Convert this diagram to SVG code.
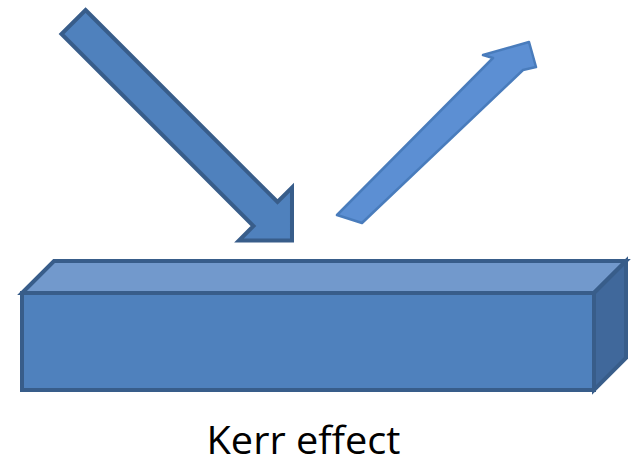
<svg xmlns="http://www.w3.org/2000/svg" width="633" height="459" viewBox="0 0 633 459">
  <defs>
    <style>
      .edge { stroke: #385D8A; stroke-width: 4; stroke-linejoin: miter; }
      .front { fill: #4F81BD; }
      .top { fill: #7299CC; }
      .side { fill: #40689B; }
      .incident { fill: #4F81BD; stroke: #385D8A; stroke-width: 4; stroke-linejoin: miter; }
      .reflected { fill: #5B8FD3; stroke: #4A7CBC; stroke-width: 2.5; stroke-linejoin: round; }
      .caption { font-family: "Open Sans", "Liberation Sans", sans-serif; font-size: 39px; fill: #000000; }
    </style>
    <filter id="soft" x="-5%" y="-5%" width="110%" height="110%">
      <feGaussianBlur stdDeviation="0.6"/>
    </filter>
  </defs>

  <!-- sample block (cuboid) -->
  <g id="block">
    <polygon class="top edge" points="22,293 54,261 626,261 594,293"/>
    <polygon class="side edge" points="594,293 626,261 626,358 594,390"/>
    <rect class="front edge" x="22" y="293" width="572" height="97"/>
  </g>

  <!-- light beams -->
  <g id="connectors">
    <g id="incident-beam">
      <polygon class="incident" transform="translate(73.5,22) rotate(45)"
               points="0,-17 271.5,-17 271.5,-37.5 309,0 271.5,37.5 271.5,17 0,17"/>
    </g>
    <g id="reflected-beam" filter="url(#soft)">
      <polygon class="reflected"
               points="337,215 493,58 483,55 529,42 536,67 523,70 362,223"/>
    </g>
  </g>

  <g id="label">
    <text class="caption" x="206.5" y="453.5" textLength="194" lengthAdjust="spacingAndGlyphs">Kerr effect</text>
  </g>
</svg>
